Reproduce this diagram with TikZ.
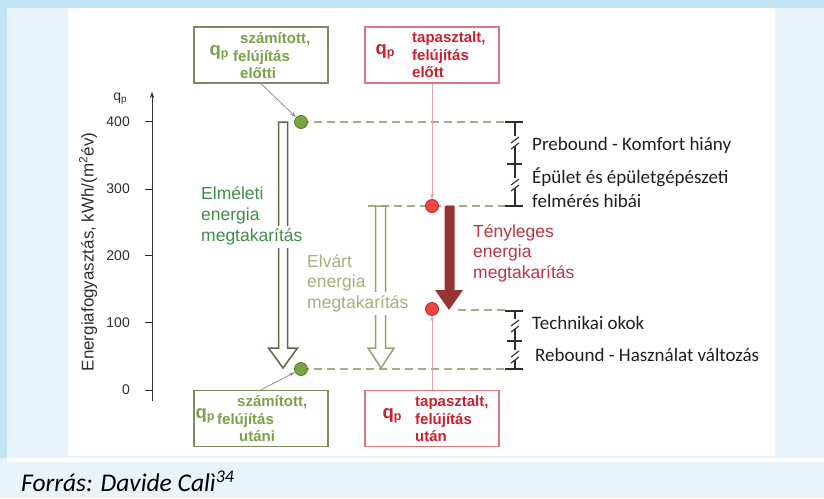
\documentclass[tikz,border=0pt]{standalone}
\usepackage{fontspec}
\setmainfont{Liberation Sans}
\newfontfamily\calib{Carlito}
\usetikzlibrary{arrows.meta}
\definecolor{outerbg}{HTML}{E8F3FA}
\definecolor{stripe}{HTML}{C2E4F5}
\definecolor{gbord}{HTML}{7E8B5C}
\definecolor{gtext}{HTML}{7BA14A}
\definecolor{rbord}{HTML}{D9787C}
\definecolor{rtext}{HTML}{C8212F}
\definecolor{elmc}{HTML}{3F8E47}
\definecolor{elvc}{HTML}{A3B07B}
\definecolor{tenc}{HTML}{BC3444}
\definecolor{arrdk}{HTML}{5D6842}
\definecolor{arrlt}{HTML}{97A36F}
\definecolor{tenarr}{HTML}{963634}
\definecolor{dashc}{HTML}{A8AA8A}
\definecolor{gdotf}{HTML}{77A540}
\definecolor{gdotd}{HTML}{56792E}
\definecolor{rdotf}{HTML}{F04444}
\definecolor{rdotd}{HTML}{B52828}
\definecolor{pinkl}{HTML}{E3A3AA}
\definecolor{grayl}{HTML}{8E8E8E}
\definecolor{axisc}{HTML}{2E2E2E}
\newcommand{\fsz}[2]{\fontsize{#1}{#2}\selectfont}
\newcommand{\qpbig}{{\fsz{18.5}{18.5}q\raisebox{-2.5pt}{\fsz{12.5}{12.5}p}}}
\tikzset{
  gbox/.style={draw=gbord, line width=1.3, minimum width=134, minimum height=56, inner sep=0},
  rbox/.style={draw=rbord, line width=1.3, minimum width=134, minimum height=56, inner sep=0},
  boxtxt/.style={anchor=west, inner sep=0, align=left, font=\bfseries\fsz{15}{17.5}},
  gdot/.style={circle, fill=gdotf, draw=gdotd, line width=0.8, minimum size=13, inner sep=0},
  rdot/.style={circle, fill=rdotf, draw=rdotd, line width=0.8, minimum size=13, inner sep=0},
  dashln/.style={draw=dashc, line width=2, dash pattern=on 8pt off 5pt},
  brk/.style={draw=axisc, line width=1.1},
  rlab/.style={anchor=west, inner sep=0, align=left, font=\calib\fsz{19}{24}, text=black!88},
  bigtxt/.style={anchor=west, inner xsep=0, inner ysep=0, align=left, font=\fsz{17.5}{20.5}},
}
\begin{document}
\begin{tikzpicture}[x=1pt,y=-1pt]
\fill[outerbg] (0,0) rectangle (824,498);
\useasboundingbox (0,0) rectangle (824,498);
\fill[stripe] (0,0) rectangle (824,8);
\fill[stripe] (0,0) rectangle (7,458);
\fill[white] (68,8) rectangle (775,456);
\fill[white] (7,458) rectangle (824,462);

% axis
\coordinate (ax0) at (152,401);
\coordinate (ax1) at (152,92);
\draw[axisc, line width=0.9, -{Stealth[length=6pt,width=4.5pt]}] (ax0) -- (ax1);
\foreach \v/\yy in {0/390,100/322.5,200/255.5,300/189,400/121.5}{
  \draw[axisc, line width=0.9] (145,\yy) -- (152,\yy);
  \node[anchor=east, inner sep=0, font=\fsz{14}{14}, text=axisc] (tk\v) at (130,\yy) {\v};
}
\node[text=axisc, inner sep=0] (aq) at (120,99) {\fsz{14}{14}q\raisebox{-2pt}{\fsz{10}{10}p}};
\node[rotate=90, inner sep=0, font=\fsz{17}{17}, text=axisc] (ylab) at (88,252) {Energiafogyasztás, kWh/(m\textsuperscript{2}év)};

% boxes
\node[gbox] (b1) at (261,55) {};
\node[rbox] (b2) at (432,55) {};
\node[gbox] (b3) at (261,418.5) {};
\node[rbox] (b4) at (432,418.5) {};
\node[inner sep=0, text=gtext, font=\bfseries] (b1q) at (219,53) {\qpbig};
\node[boxtxt, text=gtext] (b1t) at (233,56) {\hspace*{7pt}számított,\\felújítás\\\hspace*{7pt}előtti};
\node[inner sep=0, text=rtext, font=\bfseries] (b2q) at (385,52) {\qpbig};
\node[boxtxt, text=rtext] (b2t) at (412,55) {tapasztalt,\\felújítás\\előtt};
\node[inner sep=0, text=gtext, font=\bfseries] (b3q) at (205,416) {\qpbig};
\node[boxtxt, text=gtext] (b3t) at (217,419) {\hspace*{20pt}számított,\\felújítás\\\hspace*{22pt}utáni};
\node[inner sep=0, text=rtext, font=\bfseries] (b4q) at (392,416) {\qpbig};
\node[boxtxt, text=rtext] (b4t) at (415,419) {tapasztalt,\\felújítás\\után};

% dot positions
\coordinate (g1c) at (301,122);
\coordinate (g2c) at (301,369);
\coordinate (r1c) at (432,206);
\coordinate (r2c) at (432,309);

% dashed lines
\coordinate (d1e) at (505,122);
\coordinate (d2s) at (368,206);
\coordinate (d2e) at (505,206);
\coordinate (d3s) at (458,310);
\coordinate (d3e) at (505,310);
\coordinate (d4e) at (505,369);
\draw[dashln] (g1c) -- (d1e);
\draw[dashln] (d2s) -- (d2e);
\draw[dashln] (d3s) -- (d3e);
\draw[dashln] (g2c) -- (d4e);

% hollow arrows
\draw[arrdk, line width=1.5, fill=white] (278.5,122) -- (287.5,122) -- (287.5,348) -- (297.5,348) -- (283,368) -- (268.5,348) -- (278.5,348) -- cycle;
\draw[arrlt, line width=1.5, fill=white] (375.5,206) -- (385.5,206) -- (385.5,348) -- (394,348) -- (381,368) -- (368,348) -- (375.5,348) -- cycle;
\fill[tenarr] (444.5,206) -- (454.5,206) -- (454.5,290) -- (463,290) -- (449,310) -- (435,290) -- (444.5,290) -- cycle;

% arrow texts
\node[bigtxt, text=elmc] (elm1) at (201,205.5) {Elméleti\\energia};
\node[bigtxt, text=elmc, fill=white, inner ysep=3] (elm2) at (201,237) {megtakarítás};
\node[bigtxt, text=elvc] (elv1) at (307,273) {Elvárt\\energia};
\node[bigtxt, text=elvc, fill=white, inner ysep=3] (elv2) at (307,303.5) {megtakarítás};
\node[bigtxt, text=tenc] (ten) at (473,253) {Tényleges\\energia\\megtakarítás};

% dots
\node[gdot] (g1) at (g1c) {};
\node[gdot] (g2) at (g2c) {};
\node[rdot] (r1) at (r1c) {};
\node[rdot] (r2) at (r2c) {};

% connectors from boxes
\draw[grayl, line width=0.8, -{Stealth[length=6pt,width=4pt]}] (b1.south) -- (g1);
\draw[grayl, line width=0.8, -{Stealth[length=6pt,width=4pt]}] (b3.north) -- (g2);
\draw[pinkl, line width=0.9, -{Stealth[length=5pt,width=4pt]}] (b2.south) -- (r1);
\draw[pinkl, line width=0.9, -{Stealth[length=5pt,width=4pt]}] (b4.north) -- (r2);

% brackets
\draw[brk] (505,122) -- (523,122);
\draw[brk] (507,164) -- (522,164);
\draw[brk] (505,206) -- (523,206);
\draw[brk] (515,122) -- (515,136);
\draw[brk] (511,143) -- (519,137);
\draw[brk] (511,149) -- (519,143);
\draw[brk] (515,146) -- (515,178);
\draw[brk] (511,185) -- (519,179);
\draw[brk] (511,191) -- (519,185);
\draw[brk] (515,188) -- (515,206);

\draw[brk] (505,311) -- (523,311);
\draw[brk] (507,341) -- (522,341);
\draw[brk] (505,369) -- (523,369);
\draw[brk] (515,311) -- (515,319);
\draw[brk] (511,326) -- (519,320);
\draw[brk] (511,332) -- (519,326);
\draw[brk] (515,329) -- (515,350);
\draw[brk] (511,357) -- (519,351);
\draw[brk] (511,363) -- (519,357);
\draw[brk] (515,360) -- (515,369);

% right labels
\node[rlab] (l1) at (532,145) {Prebound - Komfort hiány};
\node[rlab] (l2) at (532,188) {Épület és épületgépészeti\\felmérés hibái};
\node[rlab] (l3) at (532,323) {Technikai okok};
\node[rlab] (l4) at (535,355) {Rebound - Használat változás};

% caption
\node[anchor=west, inner sep=0, font=\calib\itshape\fsz{25.5}{25.5}, text=black] (cap) at (21,481) {Forrás: Davide Calì\textsuperscript{34}};
\end{tikzpicture}
\end{document}
